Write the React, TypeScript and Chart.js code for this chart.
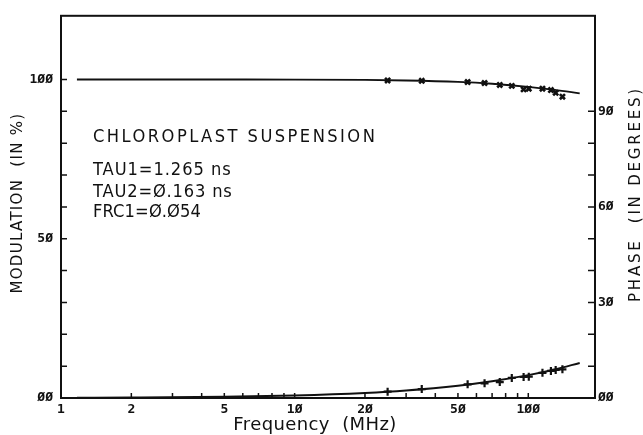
import { useEffect, useRef } from "react";
import { Chart, registerables } from "chart.js";

Chart.register(...registerables);

// Fitted two-component curve, sampled along the frequency axis (MHz)
const curveFreq = [1.17, 2, 5, 10, 20, 30, 50, 70, 100, 130, 166];
const curveModulation = [100, 100, 99.99, 99.97, 99.87, 99.7, 99.24, 98.66, 97.7, 96.75, 95.65];
const curvePhase = [0.09, 0.16, 0.4, 0.8, 1.59, 2.37, 3.86, 5.26, 7.18, 8.96, 10.99];

// Measured points
const measuredFreq = [25, 35, 55, 65, 75.5, 85, 95.5, 100.5, 115, 125, 131, 140];
const measuredModulation = [99.7, 99.6, 99.2, 98.9, 98.3, 98.0, 96.9, 97.1, 97.1, 96.7, 95.8, 94.6];
const measuredPhase = [2.0, 2.8, 4.3, 4.6, 5.0, 6.3, 6.6, 6.7, 7.9, 8.5, 8.8, 9.0];

// Axis ticks and labels
const xTicks = [1, 2, 3, 4, 5, 6, 7, 8, 9, 10, 20, 30, 40, 50, 60, 70, 80, 90, 100];
const xTickLabels: Record<number, string> = { 1: "1", 2: "2", 5: "5", 10: "1Ø", 20: "2Ø", 50: "5Ø", 100: "1ØØ" };
const modulationTicks = [0, 10, 20, 30, 40, 50, 60, 70, 80, 90, 100];
const modulationLabels: Record<number, string> = { 0: "ØØ", 50: "5Ø", 100: "1ØØ" };
const phaseTicks = [0, 10, 20, 30, 40, 50, 60, 70, 80, 90];
const phaseLabels: Record<number, string> = { 0: "ØØ", 30: "3Ø", 60: "6Ø", 90: "9Ø" };

const infoLines = ["CHLOROPLAST SUSPENSION", "TAU1=1.265 ns", "TAU2=Ø.163 ns", "FRC1=Ø.Ø54"];
const xTitle = "Frequency  (MHz)";
const leftTitle = "MODULATION  (IN %)";
const rightTitle = "PHASE  (IN DEGREES)";

const INK = "#111";

const tickFont = { family: '"DejaVu Sans Mono", monospace', size: 13, weight: "bold" as const };

const framePlugin = {
  id: "plotFrame",
  afterDraw(chart: any) {
    const { ctx, chartArea: a, scales } = chart;
    ctx.save();
    ctx.strokeStyle = INK;
    ctx.fillStyle = INK;
    ctx.lineWidth = 2;
    ctx.strokeRect(a.left, a.top, a.right - a.left, a.bottom - a.top);

    // inward tick marks
    ctx.lineWidth = 1.5;
    ctx.beginPath();
    for (const t of scales.x.ticks) {
      const px = scales.x.getPixelForValue(t.value);
      ctx.moveTo(px, a.bottom);
      ctx.lineTo(px, a.bottom - 5);
    }
    for (const t of scales.y.ticks) {
      const py = scales.y.getPixelForValue(t.value);
      ctx.moveTo(a.left, py);
      ctx.lineTo(a.left + 6, py);
    }
    for (const t of scales.y2.ticks) {
      const py = scales.y2.getPixelForValue(t.value);
      ctx.moveTo(a.right, py);
      ctx.lineTo(a.right - 7, py);
    }
    ctx.stroke();

    // parameter block
    const spacing = [2.4, 0.9, 0.8, 0.1];
    const baselines = [142, 175, 197, 217];
    ctx.font = '16px "DejaVu Sans", sans-serif';
    ctx.textAlign = "left";
    ctx.textBaseline = "alphabetic";
    infoLines.forEach((line, i) => {
      ctx.letterSpacing = `${spacing[i]}px`;
      ctx.save();
      ctx.translate(93, baselines[i]);
      ctx.scale(1.02, 1.05);
      ctx.fillText(line, 0, 0);
      ctx.restore();
    });

    // axis titles
    ctx.textAlign = "center";
    ctx.textBaseline = "middle";
    ctx.font = '15px "DejaVu Sans", sans-serif';
    ctx.letterSpacing = "1.3px";
    ctx.save();
    ctx.translate(18, 203);
    ctx.rotate(-Math.PI / 2);
    ctx.fillText(leftTitle, 0, 0);
    ctx.restore();

    ctx.letterSpacing = "2.8px";
    ctx.save();
    ctx.translate(636, 194);
    ctx.rotate(-Math.PI / 2);
    ctx.fillText(rightTitle, 0, 0);
    ctx.restore();

    ctx.letterSpacing = "0.4px";
    ctx.font = '18px "DejaVu Sans", sans-serif';
    ctx.textBaseline = "alphabetic";
    ctx.fillText(xTitle, 315, 430);
    ctx.restore();
  },
};

export default function App() {
  const ref = useRef<HTMLCanvasElement>(null);

  useEffect(() => {
    const canvas = ref.current;
    if (!canvas) return;
    const chart = new Chart(canvas, {
      type: "line",
      data: {
        datasets: [
          {
            label: "Modulation fit",
            data: curveFreq.map((f, i) => ({ x: f, y: curveModulation[i] })),
            yAxisID: "y",
            borderColor: INK,
            borderWidth: 1.9,
            pointRadius: 0,
            cubicInterpolationMode: "monotone",
          },
          {
            label: "Phase fit",
            data: curveFreq.map((f, i) => ({ x: f, y: curvePhase[i] })),
            yAxisID: "y2",
            borderColor: INK,
            borderWidth: 1.9,
            pointRadius: 0,
            cubicInterpolationMode: "monotone",
          },
          {
            label: "Modulation",
            data: measuredFreq.map((f, i) => ({ x: f, y: measuredModulation[i] })),
            yAxisID: "y",
            showLine: false,
            pointStyle: "crossRot",
            pointRadius: 3.6,
            borderColor: INK,
            backgroundColor: INK,
            borderWidth: 2.6,
          },
          {
            label: "Phase",
            data: measuredFreq.map((f, i) => ({ x: f, y: measuredPhase[i] })),
            yAxisID: "y2",
            showLine: false,
            pointStyle: "cross",
            pointRadius: 4,
            borderColor: INK,
            backgroundColor: INK,
            borderWidth: 2.2,
          },
        ],
      },
      options: {
        responsive: false,
        animation: false,
        events: [],
        layout: { padding: { top: 13, left: 0, right: 0, bottom: 0 } },
        plugins: { legend: { display: false }, tooltip: { enabled: false } },
        scales: {
          x: {
            type: "logarithmic",
            position: "bottom",
            min: 1,
            max: 193,
            afterFit: (s: any) => {
              s.height = 37;
            },
            afterBuildTicks: (s: any) => {
              s.ticks = xTicks.map((v) => ({ value: v }));
            },
            ticks: {
              autoSkip: false,
              maxRotation: 0,
              padding: 4,
              color: INK,
              font: tickFont,
              callback: (v: any) => xTickLabels[Number(v)] ?? "",
            },
            grid: { display: false, drawTicks: false },
            border: { display: false },
          },
          y: {
            type: "linear",
            position: "left",
            min: 0,
            max: 120,
            afterFit: (s: any) => {
              s.width = 61;
            },
            afterBuildTicks: (s: any) => {
              s.ticks = modulationTicks.map((v) => ({ value: v }));
            },
            ticks: {
              autoSkip: false,
              padding: 8,
              color: INK,
              font: tickFont,
              callback: (v: any) => modulationLabels[Number(v)] ?? "",
            },
            grid: { display: false, drawTicks: false },
            border: { display: false },
          },
          y2: {
            type: "linear",
            position: "right",
            min: 0,
            max: 120,
            afterFit: (s: any) => {
              s.width = 48;
            },
            afterBuildTicks: (s: any) => {
              s.ticks = phaseTicks.map((v) => ({ value: v }));
            },
            ticks: {
              autoSkip: false,
              padding: 3,
              color: INK,
              font: tickFont,
              callback: (v: any) => phaseLabels[Number(v)] ?? "",
            },
            grid: { display: false, drawTicks: false },
            border: { display: false },
          },
        },
      },
      plugins: [framePlugin],
    } as any);
    return () => chart.destroy();
  }, []);

  return (
    <div style={{ position: "absolute", left: 0, top: 0, width: 643, height: 435, background: "#fff" }}>
      <canvas ref={ref} width={643} height={435} style={{ display: "block" }} />
    </div>
  );
}
